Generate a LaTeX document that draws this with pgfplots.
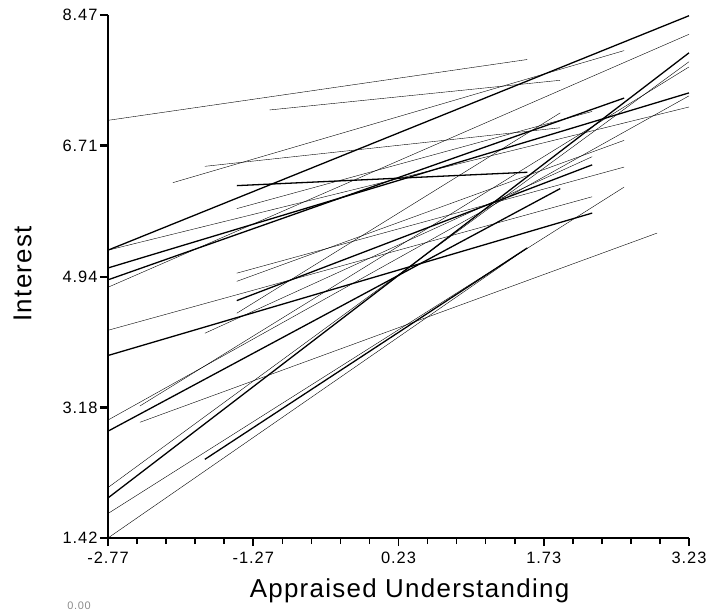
\documentclass[border=0pt]{standalone}
\usepackage{fontspec}
\setmainfont{Liberation Sans}
\newfontfamily\tickfont[LetterSpace=6]{Liberation Sans}
\newfontfamily\labfont[LetterSpace=5]{Liberation Sans}
\usepackage{pgfplots}
\pgfplotsset{compat=1.18}

\begin{document}
\begin{tikzpicture}
\begin{axis}[
  scale only axis,
  width=581bp,height=523bp,
  xmin=-2.77,xmax=3.23,ymin=1.42,ymax=8.47,
  clip=false,
  axis x line*=bottom,axis y line*=left,
  xtick pos=bottom,ytick pos=left,
  axis line style={line width=1.6bp,black},
  xtick={-2.77,-1.27,0.23,1.73,3.23},
  xticklabels={-2.77,-1.27,0.23,1.73,3.23},
  ytick={1.42,3.18,4.94,6.71,8.47},
  yticklabels={1.42,3.18,4.94,6.71,8.47},
  minor x tick num=4,minor y tick num=4,
  tick align=outside,
  major tick length=8bp,minor tick length=6bp,
  xtick style={black,line width=1.6bp},
  ytick style={black,line width=2.2bp},
  every minor y tick/.append style={black,line width=2.2bp},
  every minor x tick/.append style={black,line width=1.6bp},
  tick label style={font=\fontsize{16.5}{18}\tickfont},
  xticklabel style={yshift=-2bp},
  yticklabel style={xshift=1bp},
  xlabel={Appraised Understanding},
  ylabel={Interest},
  label style={font=\fontsize{26}{30}\labfont},
  xlabel style={at={(axis description cs:0.519,-0.101)},anchor=center},
  ylabel style={at={(axis description cs:-0.147,0.505)},anchor=center},
  cycle list={{black,solid,line width=1.3bp}},
]
% one segment per case: (low x, fitted y) to (high x, fitted y)
\addplot coordinates {(-2.77,7.05) (1.56,7.87)};
\addplot coordinates {(-1.10,7.19) (1.90,7.59)};
\addplot coordinates {(-2.77,5.30) (3.23,8.46)};
\addplot coordinates {(-2.10,6.21) (2.56,7.99)};
\addplot coordinates {(-2.77,4.80) (3.23,8.21)};
\addplot coordinates {(-2.77,1.96) (3.23,7.96)};
\addplot coordinates {(-2.77,2.10) (3.23,7.84)};
\addplot coordinates {(-2.44,3.20) (3.23,7.77)};
\addplot coordinates {(-2.77,5.06) (3.23,7.42)};
\addplot coordinates {(-2.77,3.01) (3.23,7.38)};
\addplot coordinates {(-2.77,5.30) (3.23,7.23)};
\addplot coordinates {(-2.77,4.90) (2.56,7.35)};
\addplot coordinates {(-1.44,5.86) (2.23,7.17)};
\addplot coordinates {(-1.77,6.43) (1.90,6.95)};
\addplot coordinates {(-1.44,6.17) (1.56,6.35)};
\addplot coordinates {(-1.44,4.88) (2.56,6.78)};
\addplot coordinates {(-1.77,4.18) (2.23,6.56)};
\addplot coordinates {(-1.44,4.62) (2.23,6.45)};
\addplot coordinates {(-1.44,4.99) (2.56,6.42)};
\addplot coordinates {(-2.77,1.75) (2.56,6.15)};
\addplot coordinates {(-2.77,2.86) (1.90,6.13)};
\addplot coordinates {(-2.77,4.22) (2.23,6.02)};
\addplot coordinates {(-1.44,4.45) (1.90,7.15)};
\addplot coordinates {(-2.77,3.88) (2.23,5.80)};
\addplot coordinates {(-2.44,2.98) (2.90,5.53)};
\addplot coordinates {(-2.77,1.42) (1.56,5.33)};
\addplot coordinates {(-1.77,2.48) (1.56,5.33)};
\coordinate (bl) at (rel axis cs:0,0);
\coordinate (tr) at (rel axis cs:1,1);
\end{axis}
% stray label at the bottom edge of the source image
\node[anchor=south,inner sep=0pt,font=\fontsize{11}{12}\tickfont,text=black!45]
  at ([xshift=-29bp,yshift=-72bp]bl) {0.00};
\pgfresetboundingbox
\path ([xshift=-108bp,yshift=-73bp]bl) rectangle ([xshift=27bp,yshift=15bp]tr);
\end{tikzpicture}
\end{document}
